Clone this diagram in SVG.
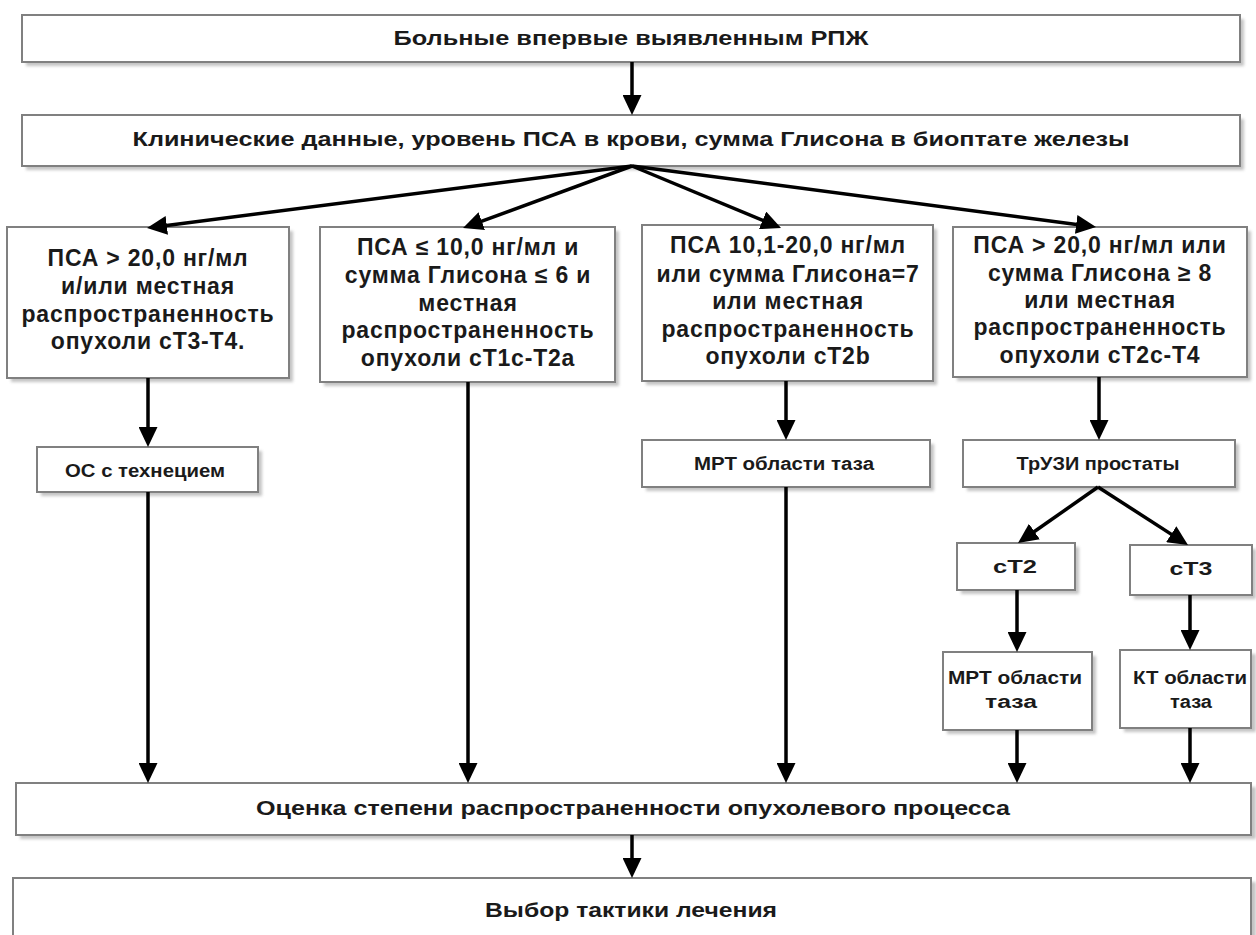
<svg xmlns="http://www.w3.org/2000/svg" width="1256" height="935" viewBox="0 0 1256 935">
<defs>
<style>
.box{fill:#fff;stroke:#808080;stroke-width:2}
.sh{fill:#c4c4c4;filter:url(#blur)}
.t{font-family:"Liberation Sans",Arial,sans-serif;font-weight:bold;fill:#1a1a1a;text-anchor:middle}
.big{font-size:23px;letter-spacing:0.8px}
.hdr{font-size:21px}
.sm{font-size:18px}
.c{fill:none;stroke:#000;stroke-width:3.5;marker-end:url(#ah)}
</style>
<filter id="blur" x="-5%" y="-20%" width="110%" height="140%"><feGaussianBlur stdDeviation="1.5"/></filter>
<marker id="ah" viewBox="0 0 20 19" markerWidth="20" markerHeight="19" refX="10" refY="9.5" orient="auto" markerUnits="userSpaceOnUse"><path d="M0,0 L20,9.5 L0,19 z" fill="#000"/></marker>
</defs>
<rect width="1256" height="935" fill="#fff"/>

<g id="n1">
<rect class="sh" x="26" y="19" width="1218" height="47"/>
<rect class="box" x="22" y="15" width="1218" height="47"/>
<text class="t hdr" x="631" y="45" textLength="475" lengthAdjust="spacingAndGlyphs">Больные впервые выявленным РПЖ</text>
</g>
<g id="n2">
<rect class="sh" x="26" y="119" width="1218" height="51"/>
<rect class="box" x="22" y="115" width="1218" height="51"/>
<text class="t hdr" x="631" y="146" textLength="997" lengthAdjust="spacingAndGlyphs">Клинические данные, уровень ПСА в крови, сумма Глисона в биоптате железы</text>
</g>
<g id="nA">
<rect class="sh" x="11" y="231" width="282" height="151"/>
<rect class="box" x="7" y="227" width="282" height="151"/>
<text class="t big" x="148"><tspan x="148" y="266">ПСА &gt; 20,0 нг/мл</tspan><tspan x="148" y="294">и/или местная</tspan><tspan x="148" y="322">распространенность</tspan><tspan x="148" y="349">опухоли сТ3-Т4.</tspan></text>
</g>
<g id="nB">
<rect class="sh" x="324" y="231" width="295" height="155"/>
<rect class="box" x="320" y="227" width="295" height="155"/>
<text class="t big" x="468"><tspan x="468" y="255">ПСА ≤ 10,0 нг/мл и</tspan><tspan x="468" y="283">сумма Глисона ≤ 6 и</tspan><tspan x="468" y="311">местная</tspan><tspan x="468" y="338">распространенность</tspan><tspan x="468" y="366">опухоли сТ1с-Т2а</tspan></text>
</g>
<g id="nC">
<rect class="sh" x="646" y="229" width="291" height="156"/>
<rect class="box" x="642" y="225" width="291" height="156"/>
<text class="t big" x="788"><tspan x="788" y="253">ПСА 10,1-20,0 нг/мл</tspan><tspan x="788" y="282">или сумма Глисона=7</tspan><tspan x="788" y="309">или местная</tspan><tspan x="788" y="337">распространенность</tspan><tspan x="788" y="364">опухоли сТ2b</tspan></text>
</g>
<g id="nD">
<rect class="sh" x="957" y="231" width="294" height="150"/>
<rect class="box" x="953" y="227" width="294" height="150"/>
<text class="t big" x="1100"><tspan x="1100" y="253">ПСА &gt; 20,0 нг/мл или</tspan><tspan x="1100" y="281">сумма Глисона ≥ 8</tspan><tspan x="1100" y="308">или местная</tspan><tspan x="1100" y="335">распространенность</tspan><tspan x="1100" y="363">опухоли сТ2с-Т4</tspan></text>
</g>
<g id="nOS">
<rect class="sh" x="41" y="451" width="221" height="45"/>
<rect class="box" x="37" y="447" width="221" height="45"/>
<text class="t sm" x="145" y="477" textLength="160" lengthAdjust="spacingAndGlyphs">ОС с технецием</text>
</g>
<g id="nMRT1">
<rect class="sh" x="646" y="444" width="288" height="47"/>
<rect class="box" x="642" y="440" width="288" height="47"/>
<text class="t sm" x="784" y="470" textLength="180" lengthAdjust="spacingAndGlyphs">МРТ области таза</text>
</g>
<g id="nUZI">
<rect class="sh" x="967" y="444" width="272" height="47"/>
<rect class="box" x="963" y="440" width="272" height="47"/>
<text class="t sm" x="1098" y="470" textLength="163" lengthAdjust="spacingAndGlyphs">ТрУЗИ простаты</text>
</g>
<g id="nT2">
<rect class="sh" x="961" y="547" width="118" height="47"/>
<rect class="box" x="957" y="543" width="118" height="47"/>
<text class="t sm" x="1015" y="573" font-size="20" textLength="44" lengthAdjust="spacingAndGlyphs">сТ2</text>
</g>
<g id="nT3">
<rect class="sh" x="1134" y="549" width="122" height="50"/>
<rect class="box" x="1130" y="545" width="122" height="50"/>
<text class="t sm" x="1191" y="575" font-size="20" textLength="43" lengthAdjust="spacingAndGlyphs">сТ3</text>
</g>
<g id="nMRT2">
<rect class="sh" x="947" y="656" width="149" height="78"/>
<rect class="box" x="943" y="652" width="149" height="78"/>
<text class="t sm" x="1015" y="684" textLength="134" lengthAdjust="spacingAndGlyphs">МРТ области</text>
<text class="t sm" x="1011" y="708" textLength="52" lengthAdjust="spacingAndGlyphs">таза</text>
</g>
<g id="nKT">
<rect class="sh" x="1124" y="654" width="132" height="78"/>
<rect class="box" x="1120" y="650" width="131" height="78"/>
<text class="t sm" x="1190" y="684" textLength="114" lengthAdjust="spacingAndGlyphs">КТ области</text>
<text class="t sm" x="1191" y="708" textLength="42" lengthAdjust="spacingAndGlyphs">таза</text>
</g>
<g id="nEval">
<rect class="sh" x="20" y="787" width="1236" height="52"/>
<rect class="box" x="16" y="783" width="1235" height="52"/>
<text class="t" x="633" y="815" font-size="20" textLength="754" lengthAdjust="spacingAndGlyphs">Оценка степени распространенности опухолевого процесса</text>
</g>
<g id="nChoice">
<rect class="sh" x="17" y="882" width="1239" height="70"/>
<rect class="box" x="13" y="878" width="1238" height="70"/>
<text class="t" x="631" y="917" font-size="20" textLength="292" lengthAdjust="spacingAndGlyphs">Выбор тактики лечения</text>
</g>

<g id="connectors">
<path class="c" d="M632,62 L632,105"/>
<path class="c" d="M632,166 L156.9,226.7"/>
<path class="c" d="M632,166 L472.4,224.6"/>
<path class="c" d="M632,166 L771.8,224.2"/>
<path class="c" d="M632,166 L1086.1,225.7"/>
<path class="c" d="M148,378 L148,437"/>
<path class="c" d="M148,492 L148,773"/>
<path class="c" d="M468,382 L468,773"/>
<path class="c" d="M786,381 L786,430"/>
<path class="c" d="M786,487 L786,773"/>
<path class="c" d="M1099,377 L1099,430"/>
<path class="c" d="M1098,487 L1026.2,537.3"/>
<path class="c" d="M1098,487 L1179.6,539.6"/>
<path class="c" d="M1017,590 L1017,642"/>
<path class="c" d="M1190,595 L1190,640"/>
<path class="c" d="M1017,730 L1017,773"/>
<path class="c" d="M1190,728 L1190,773"/>
<path class="c" d="M632,835 L632,868"/>
</g>
</svg>
